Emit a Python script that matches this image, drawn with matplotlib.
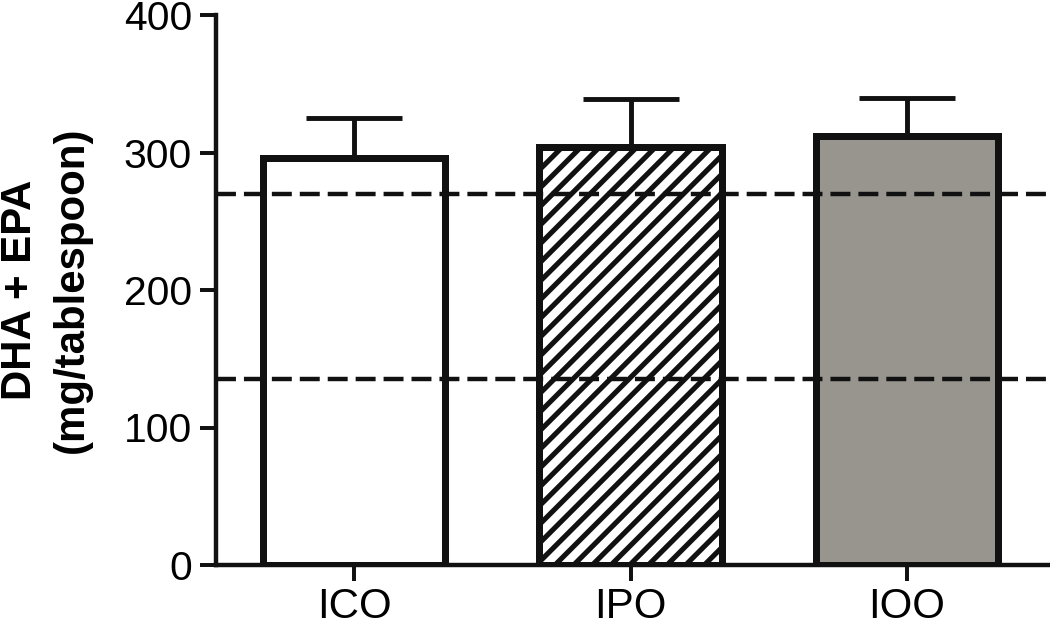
import numpy as np
import matplotlib
matplotlib.use("Agg")
import matplotlib.pyplot as plt

# data
groups = ["ICO", "IPO", "IOO"]
means = [296, 304, 312]
errs = [29, 35, 28]
ref_lines = [270, 135]
yticks = [0, 100, 200, 300, 400]

faces = ["white", "white", "#98958f"]
hatches = [None, "///", None]

plt.rcParams["font.family"] = ["Liberation Sans", "DejaVu Sans"]
plt.rcParams["hatch.linewidth"] = 2.2
plt.rcParams["hatch.color"] = "#111111"

dpi = 168
fig = plt.figure(figsize=(1050 / dpi, 625 / dpi), dpi=dpi)
ax = fig.add_axes([216 / 1050, 60 / 625, 832 / 1050, 550 / 625])

x = np.arange(len(groups))
bars = ax.bar(x, means, width=0.66, color=faces, edgecolor="#111111",
              linewidth=3.0, zorder=2)
for b, h in zip(bars, hatches):
    if h:
        b.set_hatch(h)

# upper error bars only
ax.errorbar(x, means, yerr=[np.zeros(len(errs)), errs], fmt="none",
            ecolor="#111111", elinewidth=2.1, capsize=20.5, capthick=2.1,
            zorder=1)

for yv in ref_lines:
    ax.axhline(yv, color="#111111", lw=1.9, dashes=(4.5, 1.8),
               zorder=3)

ax.set_xlim(-0.5, 2.51)
ax.set_ylim(0, 400)
ax.set_yticks(yticks)
ax.set_xticks(x)
ax.set_xticklabels(groups)

for side in ["top", "right"]:
    ax.spines[side].set_visible(False)
for side in ["left", "bottom"]:
    ax.spines[side].set_linewidth(1.9)
    ax.spines[side].set_color("#111111")

ax.tick_params(axis="both", direction="out", length=6.9, width=1.7,
               color="#111111")
ax.tick_params(axis="y", pad=3.4, labelsize=17.5)
ax.tick_params(axis="x", pad=2.5, labelsize=18)

ax.set_ylabel("DHA + EPA\n(mg/tablespoon)", fontsize=18,
              fontweight="bold", linespacing=1.38)
ax.yaxis.set_label_coords(-0.149, 0.5)

fig.savefig("out.png", dpi=dpi)
